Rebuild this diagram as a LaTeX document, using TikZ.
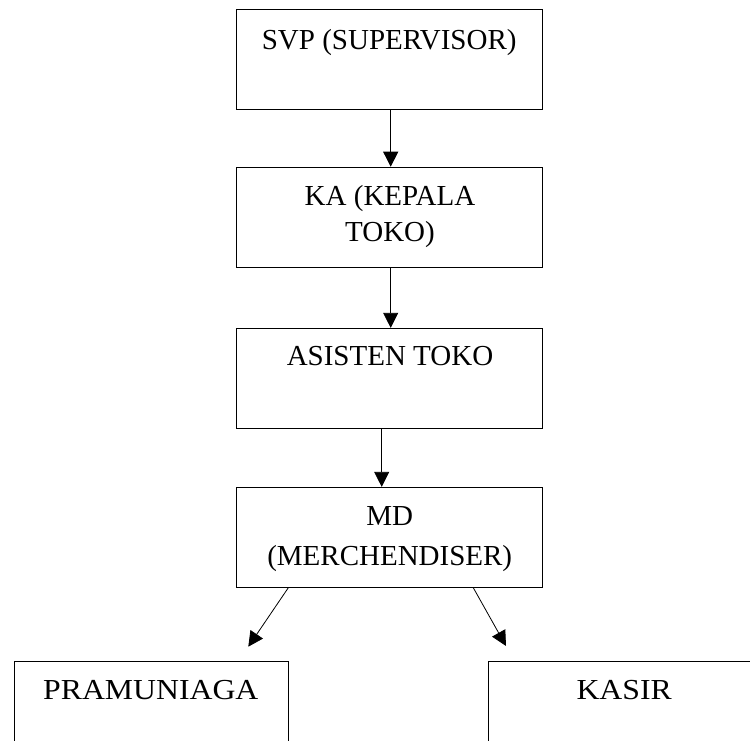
\documentclass[tikz,border=0pt]{standalone}
\usepackage{fontspec}
\setmainfont{Liberation Serif}
\usetikzlibrary{arrows.meta}
\begin{document}
\begin{tikzpicture}[x=1pt,y=-1pt,
  orgbox/.style={draw=black,line width=0.9pt,rectangle,inner sep=0pt,minimum width=305.6pt,minimum height=100pt},
  lowbox/.style={draw=black,line width=0.9pt,rectangle,inner sep=0pt,anchor=north west},
  lbl/.style={anchor=base,inner sep=0pt,align=center,font=\fontsize{29}{37}\selectfont},
  conn/.style={line width=0.8pt,-{Triangle[length=15pt,width=15pt]}}]
\useasboundingbox (0,0) rectangle (750,741);
\clip (0,0) rectangle (750,741);
% boxes
\node[orgbox] (svp) at (389.5,59.7) {};
\node[orgbox] (ka) at (389.5,217.2) {};
\node[orgbox] (as) at (389.5,378.3) {};
\node[orgbox] (md) at (389.5,537.3) {};
\node[lowbox,minimum width=273.7pt,minimum height=120pt] (pr) at (14,660.7) {};
\node[lowbox,minimum width=300pt,minimum height=120pt] (ks) at (488.3,660.7) {};
% labels (base anchor = baseline of last line)
\node[lbl] (tsvp) at (389.2,50) {SVP (SUPERVISOR)};
\node[lbl,font=\fontsize{29}{36}\selectfont] (tka) at (390,241.7) {KA (KEPALA\\TOKO)};
\node[lbl] (tas) at (390,365) {ASISTEN TOKO};
\node[lbl,font=\fontsize{29}{40}\selectfont] (tmd) at (389.7,565) {MD\\(MERCHENDISER)};
\node[lbl] (tpr) at (150.8,699.3) {\scalebox{1.095}[1]{PRAMUNIAGA}};
\node[lbl] (tks) at (624.2,699.3) {\scalebox{1.095}[1]{KASIR}};
% connectors
\coordinate (t1) at (248.3,646.7);
\coordinate (t2) at (506,646);
\draw[conn] ([xshift=1.2pt]svp.south) -- ([xshift=1.2pt]ka.north);
\draw[conn] ([xshift=1.2pt]ka.south) -- ([xshift=1.2pt]as.north);
\draw[conn] ([xshift=-7.8pt]as.south) -- ([xshift=-7.8pt]md.north);
\draw[conn] ([xshift=-101.2pt]md.south) -- (t1);
\draw[conn] ([xshift=83.8pt]md.south) -- (t2);
\end{tikzpicture}
\end{document}
